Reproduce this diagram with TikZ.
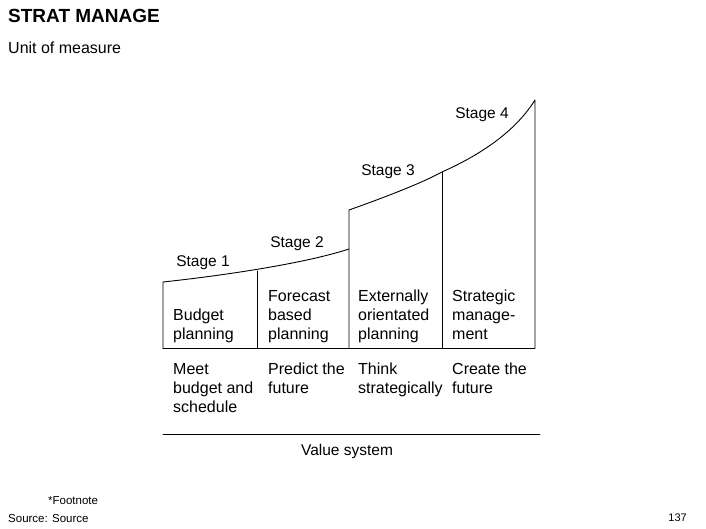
\documentclass[tikz,border=0pt]{standalone}
\usepackage{fontspec}
\setmainfont{Liberation Sans}
\usetikzlibrary{positioning}

\tikzset{
  txt/.style={anchor=north west,inner sep=0pt,align=left,font=\fontsize{16}{19}\selectfont},
  stagelbl/.style={inner sep=0pt,font=\fontsize{15.5}{19}\selectfont}
}

\begin{document}
\begin{tikzpicture}[line cap=round,line join=round,x=1pt,y=-1pt]
\useasboundingbox (0,0) rectangle (706,529);
% heading
\node[anchor=north west,inner sep=0pt,font=\fontsize{19}{21}\selectfont\bfseries] (title) at (8,9) {STRAT MANAGE};
\node[anchor=north west,inner sep=0pt,font=\fontsize{16}{18}\selectfont] (unit) at (8,42) {Unit of measure};
% steps
\coordinate (a0) at (163,348);
\coordinate (a1) at (163,282);
\coordinate (b0) at (257,348);
\coordinate (b1) at (257,271);
\coordinate (c0) at (349,348);
\coordinate (c1) at (349,249);
\coordinate (c2) at (349,210);
\coordinate (d0) at (442,348);
\coordinate (d1) at (442,172);
\coordinate (e0) at (535,348);
\coordinate (e1) at (535,100);
\draw[color=black,line width=0.9pt] (a0) -- (a1) .. controls (210,277) and (300,265) .. (c1);
\draw[color=black,line width=0.9pt] (c0) -- (c2) .. controls (380,199) and (420,184) .. (d1) .. controls (480,155) and (515,132) .. (e1) -- (e0);
\draw[color=black,line width=0.6pt] (b1) -- (b0);
\draw[color=black,line width=0.6pt] (d1) -- (d0);
\draw[color=black,line width=0.6pt] (a0) -- (e0);
\draw[color=black,line width=1pt] (a0) -- (b0);
\foreach \n/\x/\y in {1/203/263,2/297/244,3/388/172,4/482/115}
\node[stagelbl] (stage\n) at (\x,\y) {Stage \n};
% box texts
\node[txt] (bud) at (173,309) {Budget\\planning};
\node[txt] (fore) at (268,290) {Forecast\\based\\planning};
\node[txt] (ext) at (358,290) {Externally\\orientated\\planning};
\node[txt] (strat) at (452,290) {Strategic\\manage-\\ment};
% values
\node[txt] (meet) at (173,363) {Meet\\budget and\\schedule};
\node[txt] (pred) at (268,363) {Predict the\\future};
\node[txt] (think) at (358,363) {Think\\strategically};
\node[txt] (create) at (452,363) {Create the\\future};
\coordinate (v0) at (163,434);
\coordinate (v1) at (540,434);
\draw[color=black,line width=0.6pt] (v0) -- (v1);
\node[stagelbl] (value) at (347,451) {Value system};
% footer
\node[anchor=north west,inner sep=0pt,font=\fontsize{11.5}{14}\selectfont] (foot) at (48,496) {*Footnote};
\node[anchor=north west,inner sep=0pt,font=\fontsize{11.5}{14}\selectfont] (src) at (8,514) {Source: Source};
\node[anchor=north east,inner sep=0pt,font=\fontsize{11}{14}\selectfont] (page) at (687,514) {137};
\end{tikzpicture}
\end{document}
